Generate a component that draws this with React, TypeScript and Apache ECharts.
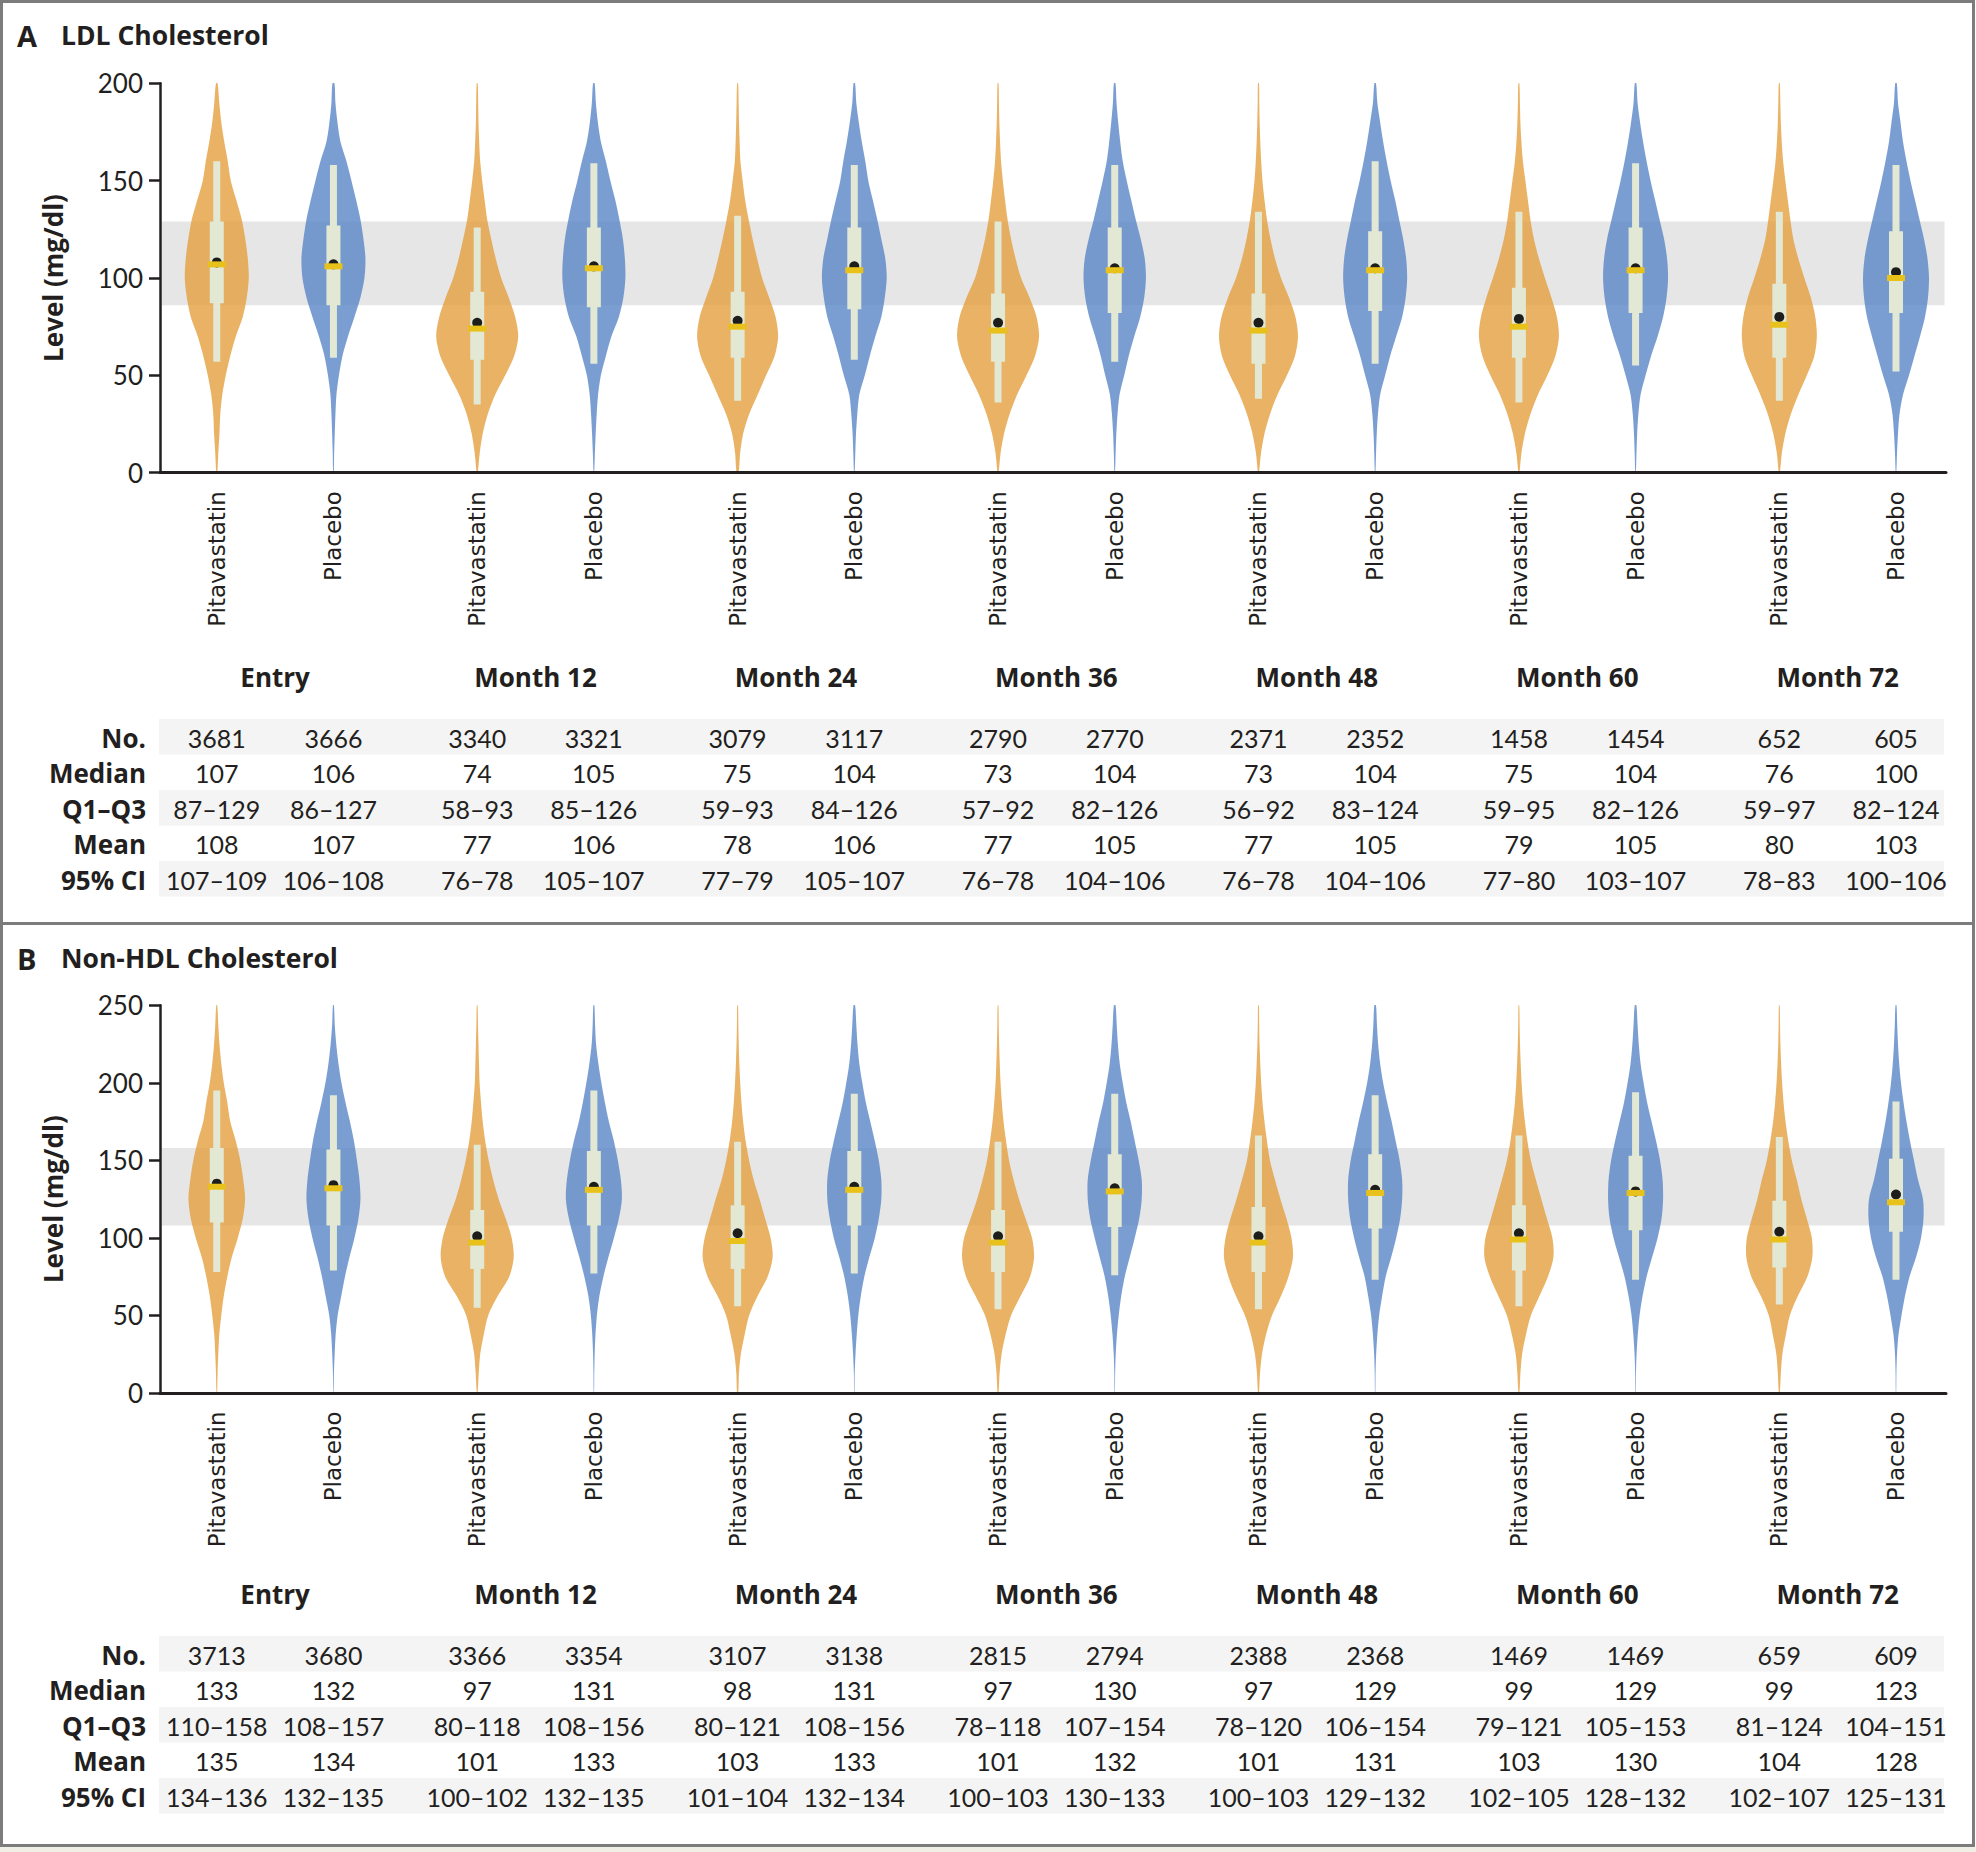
import React, { useEffect, useRef } from "react";
import * as echarts from "echarts";

// ---------------- data ----------------
const groups = ["Entry", "Month 12", "Month 24", "Month 36", "Month 48", "Month 60", "Month 72"];
const arms = ["Pitavastatin", "Placebo"];
const rowLabels = ["No.", "Median", "Q1\u2013Q3", "Mean", "95% CI"];

// Panel A: LDL cholesterol (order: Entry Pita, Entry Placebo, Month 12 Pita, ...)
const ldlN = [3681, 3666, 3340, 3321, 3079, 3117, 2790, 2770, 2371, 2352, 1458, 1454, 652, 605];
const ldlMedian = [107, 106, 74, 105, 75, 104, 73, 104, 73, 104, 75, 104, 76, 100];
const ldlQ1 = [87, 86, 58, 85, 59, 84, 57, 82, 56, 83, 59, 82, 59, 82];
const ldlQ3 = [129, 127, 93, 126, 93, 126, 92, 126, 92, 124, 95, 126, 97, 124];
const ldlMean = [108, 107, 77, 106, 78, 106, 77, 105, 77, 105, 79, 105, 80, 103];
const ldlCiLow = [107, 106, 76, 105, 77, 105, 76, 104, 76, 104, 77, 103, 78, 100];
const ldlCiHigh = [109, 108, 78, 107, 79, 107, 78, 106, 78, 106, 80, 107, 83, 106];
const ldlWhiskerLow = [57, 59, 35, 56, 37, 58, 36, 57, 38, 56, 36, 55, 37, 52];
const ldlWhiskerHigh = [160, 158, 126, 159, 132, 158, 129, 158, 134, 160, 134, 159, 134, 158];
const ldlBand = [86, 129];
const ldlTicks = [0, 50, 100, 150, 200];
const ldlLevels = [0, 10, 20, 30, 40, 50, 60, 70, 80, 90, 100, 110, 120, 130, 140, 150, 160, 170, 180, 190, 200];
const ldlDensity = [
  [0.5, 1.5, 2.7, 3.5, 5.5, 9, 13.5, 19, 26, 30, 32, 31, 28.5, 25, 19.5, 14, 11, 7.5, 4.5, 2.5, 0.8],
  [0.3, 0.7, 1.3, 2, 3, 5.5, 9, 14.5, 21, 27, 31, 32, 30, 27, 22.7, 18, 13, 7, 4, 2, 1],
  [0.5, 2.5, 5.5, 10.5, 18, 28, 37, 41, 38, 31.5, 24, 18.5, 14, 10, 7.4, 5, 3, 2, 1.3, 1, 0.5],
  [0.3, 1, 1.8, 2.8, 4.2, 7, 12, 17.5, 25, 29.5, 31.5, 31, 29, 25.5, 21.4, 16.5, 12, 7, 4, 2, 0.8],
  [1, 2.5, 5.5, 11.5, 20, 28.5, 37, 40.5, 38, 31.5, 24.5, 19.5, 15, 11, 7.5, 5, 2.8, 2, 1.4, 1, 0.5],
  [0.3, 1, 1.7, 3, 5, 10.5, 15.5, 21, 27, 30.5, 32.4, 31, 27, 23, 18.5, 14, 11, 7.5, 4.5, 2, 0.8],
  [0.5, 2.5, 6, 11.5, 19, 28.5, 37, 41, 38.5, 31.5, 23, 17.5, 13, 9.5, 7, 4.8, 3, 2, 1.3, 0.9, 0.5],
  [0.3, 0.9, 1.6, 2.8, 4.8, 9.5, 14, 19.5, 25.5, 29.5, 31.2, 30, 26, 21, 16.5, 12, 8, 5.5, 3.5, 1.8, 0.8],
  [0.5, 2.5, 6, 11.5, 19, 28.5, 36.5, 39.5, 37, 30.5, 22.5, 16.5, 12, 8.5, 6, 4, 2.7, 1.8, 1.2, 0.8, 0.5],
  [0.3, 0.9, 1.6, 2.8, 5, 10, 15, 21, 27, 30.5, 32, 31, 28, 24, 20, 15.5, 11.5, 8, 5, 2.2, 0.8],
  [0.5, 2.5, 6, 11.5, 19, 28.5, 36.5, 40, 38, 32.5, 26, 20, 15, 11.5, 9, 6.5, 4, 2.5, 1.5, 1, 0.5],
  [0.3, 0.9, 1.6, 2.8, 5, 10, 15.5, 22, 27.5, 31, 32.5, 31.5, 28.5, 24, 19.5, 15, 11, 7.5, 4.5, 2, 0.8],
  [0.5, 2.5, 6, 11.5, 19, 27.5, 35, 37.5, 36, 31.5, 25, 19, 14, 11, 8.5, 6, 3.8, 2.4, 1.5, 1, 0.5],
  [0.3, 1, 2, 3.5, 7, 13, 18.5, 24, 29, 32, 33, 31.5, 28, 23.5, 19, 14.5, 10.5, 7, 4.5, 2, 0.8],
];

// Panel B: non-HDL cholesterol
const nhdlN = [3713, 3680, 3366, 3354, 3107, 3138, 2815, 2794, 2388, 2368, 1469, 1469, 659, 609];
const nhdlMedian = [133, 132, 97, 131, 98, 131, 97, 130, 97, 129, 99, 129, 99, 123];
const nhdlQ1 = [110, 108, 80, 108, 80, 108, 78, 107, 78, 106, 79, 105, 81, 104];
const nhdlQ3 = [158, 157, 118, 156, 121, 156, 118, 154, 120, 154, 121, 153, 124, 151];
const nhdlMean = [135, 134, 101, 133, 103, 133, 101, 132, 101, 131, 103, 130, 104, 128];
const nhdlCiLow = [134, 132, 100, 132, 101, 132, 100, 130, 100, 129, 102, 128, 102, 125];
const nhdlCiHigh = [136, 135, 102, 135, 104, 134, 103, 133, 103, 132, 105, 132, 107, 131];
const nhdlWhiskerLow = [78, 79, 55, 77, 56, 77, 54, 76, 54, 73, 56, 73, 57, 73];
const nhdlWhiskerHigh = [195, 192, 160, 195, 162, 193, 162, 193, 166, 192, 166, 194, 165, 188];
const nhdlBand = [108, 158];
const nhdlTicks = [0, 50, 100, 150, 200, 250];
const nhdlLevels = [0, 12.5, 25, 37.5, 50, 62.5, 75, 87.5, 100, 112.5, 125, 137.5, 150, 162.5, 175, 187.5, 200, 212.5, 225, 237.5, 250];
const nhdlDensity = [
  [0.3, 0.8, 1.5, 2.5, 4.5, 7, 10.5, 15, 21, 26, 28.3, 26.5, 23.5, 19, 13.5, 10.5, 7, 4.5, 2.7, 1.5, 0.5],
  [0.2, 0.5, 1.2, 2.2, 4.2, 7.8, 11.5, 16, 21, 25, 27, 26, 23.5, 20.5, 16.5, 12, 8, 5, 2.8, 1.3, 0.5],
  [0.4, 1.5, 3, 6.5, 11, 20.5, 32, 36.5, 34.5, 28.5, 21.5, 16, 11.5, 8, 5.5, 3.8, 2.4, 1.8, 1.3, 0.8, 0.4],
  [0.2, 0.4, 0.8, 1.6, 3, 5.5, 9.5, 14.5, 20, 25, 28, 27, 24, 20, 15, 11, 7.5, 4.5, 2.2, 1.2, 0.5],
  [0.6, 1.3, 3.2, 7, 11.5, 20, 30, 35, 33, 27.5, 22, 16, 11.5, 8, 5.5, 3.8, 2.6, 1.7, 1.1, 0.7, 0.4],
  [0.2, 0.4, 1.2, 2.4, 4, 6.5, 10, 15, 20.5, 24.5, 27, 27, 24.5, 20.5, 16, 11.5, 8, 5, 3.2, 2, 0.8],
  [0.5, 1.5, 3.5, 7.5, 13, 22.5, 32, 36, 34, 27.5, 21, 15.5, 11, 8, 5.5, 3.8, 2.5, 1.7, 1.1, 0.7, 0.4],
  [0.2, 0.4, 1, 2.2, 4, 6.5, 10, 15, 20, 24.5, 27, 27, 24, 20, 16, 11.5, 8, 5, 3.2, 2, 0.8],
  [0.5, 1.5, 3.5, 7.5, 13.5, 22.5, 30, 34.5, 33, 28, 22, 16.5, 11.5, 8.5, 6, 4, 2.7, 1.8, 1.1, 0.7, 0.4],
  [0.2, 0.4, 1, 2.2, 4, 7, 10.5, 16, 21, 25, 27, 27, 24.5, 20.5, 16.5, 12, 8, 5, 3, 1.8, 0.8],
  [0.5, 1.5, 3.2, 7, 12, 20.5, 29, 34.5, 33.5, 28, 22.5, 17, 12, 8.5, 6, 4, 2.7, 1.8, 1.1, 0.7, 0.4],
  [0.2, 0.4, 1, 2.2, 4, 7, 11, 16.5, 22, 26, 27.5, 27, 24.5, 20.5, 16, 11.5, 8, 5, 3.2, 2, 0.8],
  [0.5, 1.5, 3, 6.5, 10.5, 18.5, 28, 33, 32.5, 27.5, 22, 17.5, 12.5, 9, 6.2, 4.2, 2.8, 1.8, 1.1, 0.7, 0.4],
  [0.2, 0.4, 1, 2.5, 5.5, 9, 13.5, 20, 25, 27.5, 27, 22, 18, 14, 10.5, 7.5, 5, 3.2, 2, 1.2, 0.5],
];

// ---------------- layout / style ----------------
const W = 1976;
const H = 1852;
const GRID_LEFT = 160;
const GRID_W = 1786;
const X_MAX = 6.858;
const PITA_OFF = 0.218;
const PLAC_OFF = 0.666;
const INK = "#231f20";
const FONT = "Lato, 'Open Sans', sans-serif";
const BOLD_FONT = "'Open Sans', Lato, sans-serif";
const LABEL_FONT = "'DejaVu Sans', Verdana, sans-serif";
const ORANGE = "rgba(228,159,61,0.8)";
const BLUE = "rgba(89,134,199,0.8)";
const BOX = "#e2e8d3";
const MEDIAN = "#e8c21a";
const ROW_H = 35.5;

const xOf = (i: number) => Math.floor(i / 2) + (i % 2 ? PLAC_OFF : PITA_OFF);

const panels = [
  {
    letter: "A", title: "LDL Cholesterol", top: 83.3, height: 389.4, ticks: ldlTicks,
    levels: ldlLevels, density: ldlDensity, band: ldlBand,
    n: ldlN, median: ldlMedian, q1: ldlQ1, q3: ldlQ3, mean: ldlMean, ciLow: ldlCiLow, ciHigh: ldlCiHigh,
    wLow: ldlWhiskerLow, wHigh: ldlWhiskerHigh,
    titleY: 35, groupY: 677, rowTop: 719,
  },
  {
    letter: "B", title: "Non-HDL Cholesterol", top: 1005.3, height: 387.7, ticks: nhdlTicks,
    levels: nhdlLevels, density: nhdlDensity, band: nhdlBand,
    n: nhdlN, median: nhdlMedian, q1: nhdlQ1, q3: nhdlQ3, mean: nhdlMean, ciLow: nhdlCiLow, ciHigh: nhdlCiHigh,
    wLow: nhdlWhiskerLow, wHigh: nhdlWhiskerHigh,
    titleY: 958, groupY: 1594, rowTop: 1636,
  },
];

function buildOption() {
  const grid: any[] = [];
  const xAxis: any[] = [];
  const yAxis: any[] = [];
  const series: any[] = [];
  const graphic: any[] = [];

  // frame
  graphic.push({ type: "rect", z: 0, shape: { x: 0, y: 1847, width: W, height: 5 }, style: { fill: "#f1eee6" } });
  graphic.push({ type: "rect", z: 100, shape: { x: 1.5, y: 1.5, width: W - 4, height: 1844 }, style: { fill: "none", stroke: "#7c7c7c", lineWidth: 3 } });
  graphic.push({ type: "line", z: 100, shape: { x1: 0, y1: 923.5, x2: W - 2, y2: 923.5 }, style: { stroke: "#7c7c7c", lineWidth: 3 } });

  panels.forEach((p, k) => {
    const idx = p.n.map((_, i) => i);
    const yMax = p.ticks[p.ticks.length - 1];
    const bottom = p.top + p.height;
    grid.push({ left: GRID_LEFT, top: p.top, width: GRID_W, height: p.height });
    xAxis.push({
      gridIndex: k, type: "value", min: 0, max: X_MAX, z: 10,
      axisLine: { show: true, onZero: false, lineStyle: { color: INK, width: 3 } },
      axisTick: { show: false }, axisLabel: { show: false }, splitLine: { show: false },
    });
    yAxis.push({
      gridIndex: k, type: "value", min: p.ticks[0], max: yMax, interval: 50, z: 10,
      axisLine: { show: true, lineStyle: { color: INK, width: 2.5 } },
      axisTick: { show: true, length: 11, lineStyle: { color: INK, width: 2.5 } },
      axisLabel: { fontSize: 26, fontFamily: FONT, color: INK, margin: 17 },
      splitLine: { show: false },
    });

    // reference band
    series.push({
      type: "custom", xAxisIndex: k, yAxisIndex: k, z: 1, silent: true, clip: false,
      data: [[0, p.band[0]]],
      renderItem: (_: any, api: any) => {
        const a = api.coord([0, p.band[1]]);
        const b = api.coord([X_MAX, p.band[0]]);
        return { type: "rect", shape: { x: a[0] + 1.5, y: a[1], width: b[0] - a[0] - 3, height: b[1] - a[1] }, style: { fill: "#e6e6e6" } };
      },
    });

    // violins
    series.push({
      type: "custom", xAxisIndex: k, yAxisIndex: k, z: 2, silent: true, clip: false,
      data: idx.map((i) => [xOf(i), 0, i]),
      renderItem: (_: any, api: any) => {
        const i = api.value(2);
        const cx = api.coord([api.value(0), 0])[0];
        const d = p.density[i];
        const right: number[][] = [];
        const left: number[][] = [];
        p.levels.forEach((lv, j) => {
          const y = api.coord([0, lv])[1];
          right.push([cx + d[j], y]);
          left.unshift([cx - d[j], y]);
        });
        return {
          type: "polygon",
          shape: { points: right.concat(left), smooth: 0.3 },
          style: { fill: i % 2 ? BLUE : ORANGE },
        };
      },
    });

    // whiskers + IQR boxes
    series.push({
      type: "custom", xAxisIndex: k, yAxisIndex: k, z: 3, silent: true, clip: false,
      data: idx.map((i) => [xOf(i), p.median[i], i]),
      renderItem: (_: any, api: any) => {
        const i = api.value(2);
        const x = api.value(0);
        const wTop = api.coord([x, p.wHigh[i]]);
        const wBot = api.coord([x, p.wLow[i]]);
        const bTop = api.coord([x, p.q3[i]]);
        const bBot = api.coord([x, p.q1[i]]);
        return {
          type: "group",
          children: [
            { type: "rect", shape: { x: wTop[0] - 3.5, y: wTop[1], width: 7, height: wBot[1] - wTop[1] }, style: { fill: BOX } },
            { type: "rect", shape: { x: bTop[0] - 7, y: bTop[1], width: 14, height: bBot[1] - bTop[1] }, style: { fill: BOX } },
          ],
        };
      },
    });

    // means
    series.push({
      type: "scatter", xAxisIndex: k, yAxisIndex: k, z: 4, silent: true,
      symbol: "circle", symbolSize: 10,
      itemStyle: { color: "#1d1d1b", opacity: 1 },
      data: idx.map((i) => [xOf(i), p.mean[i]]),
    });

    // medians
    series.push({
      type: "custom", xAxisIndex: k, yAxisIndex: k, z: 5, silent: true, clip: false,
      data: idx.map((i) => [xOf(i), p.median[i]]),
      renderItem: (_: any, api: any) => {
        const c = api.coord([api.value(0), api.value(1)]);
        return { type: "rect", shape: { x: c[0] - 9, y: c[1] - 3, width: 18, height: 6 }, style: { fill: MEDIAN } };
      },
    });

    // arm labels + table values
    series.push({
      type: "custom", xAxisIndex: k, yAxisIndex: k, z: 6, silent: true, clip: false,
      data: idx.map((i) => [xOf(i), 0, i]),
      renderItem: (_: any, api: any) => {
        const i = api.value(2);
        const cx = api.coord([api.value(0), 0])[0];
        const cells = [
          String(p.n[i]),
          String(p.median[i]),
          `${p.q1[i]}\u2013${p.q3[i]}`,
          String(p.mean[i]),
          `${p.ciLow[i]}\u2013${p.ciHigh[i]}`,
        ];
        const children: any[] = [
          {
            type: "text", x: cx, y: bottom + 18.5, rotation: Math.PI / 2,
            style: { text: arms[i % 2], fill: INK, fontSize: 23, fontFamily: LABEL_FONT, align: "right", verticalAlign: "middle" },
          },
        ];
        cells.forEach((t, r) => {
          children.push({
            type: "text", x: cx, y: p.rowTop + ROW_H * r + ROW_H / 2 + 1,
            style: { text: t, fill: INK, fontSize: 25, fontFamily: FONT, align: "center", verticalAlign: "middle" },
          });
        });
        return { type: "group", children };
      },
    });

    // group labels
    series.push({
      type: "custom", xAxisIndex: k, yAxisIndex: k, z: 6, silent: true, clip: false,
      data: groups.map((_, g) => [g + (PITA_OFF + PLAC_OFF) / 2, 0, g]),
      renderItem: (_: any, api: any) => {
        const g = api.value(2);
        const cx = api.coord([api.value(0), 0])[0];
        return {
          type: "text", x: cx, y: p.groupY,
          style: { text: groups[g], fill: INK, fontSize: 26, fontWeight: "bold", fontFamily: BOLD_FONT, align: "center", verticalAlign: "middle" },
        };
      },
    });

    // panel title
    graphic.push({ type: "text", x: 17, y: p.titleY, style: { text: p.letter, fill: INK, fontSize: 29, fontWeight: "bold", fontFamily: BOLD_FONT, verticalAlign: "middle" } });
    graphic.push({ type: "text", x: 61, y: p.titleY, style: { text: p.title, fill: INK, fontSize: 26.5, fontWeight: "bold", fontFamily: BOLD_FONT, verticalAlign: "middle" } });
    // y axis name
    graphic.push({
      type: "text", x: 53, y: p.top + p.height / 2, rotation: Math.PI / 2,
      style: { text: "Level (mg/dl)", fill: INK, fontSize: 26, fontWeight: "bold", fontFamily: BOLD_FONT, align: "center", verticalAlign: "middle" },
    });
    // table stripes + row labels
    rowLabels.forEach((lab, r) => {
      const y0 = p.rowTop + ROW_H * r;
      if (r % 2 === 0) {
        graphic.push({ type: "rect", z: -1, shape: { x: 159, y: y0, width: 1785, height: ROW_H }, style: { fill: "#f4f4f4" } });
      }
      graphic.push({
        type: "text", x: 146, y: y0 + ROW_H / 2 + 1,
        style: { text: lab, fill: INK, fontSize: 26, fontWeight: "bold", fontFamily: BOLD_FONT, align: "right", verticalAlign: "middle" },
      });
    });
  });

  return {
    animation: false,
    backgroundColor: "#ffffff",
    textStyle: { fontFamily: FONT },
    grid, xAxis, yAxis, series, graphic,
  };
}

export default function App() {
  const ref = useRef<HTMLDivElement>(null);
  useEffect(() => {
    document.body.style.margin = "0";
    const chart = echarts.init(ref.current as HTMLDivElement, null, { renderer: "svg" });
    chart.setOption(buildOption() as any);
    return () => chart.dispose();
  }, []);
  return <div ref={ref} style={{ width: W, height: H }} />;
}
